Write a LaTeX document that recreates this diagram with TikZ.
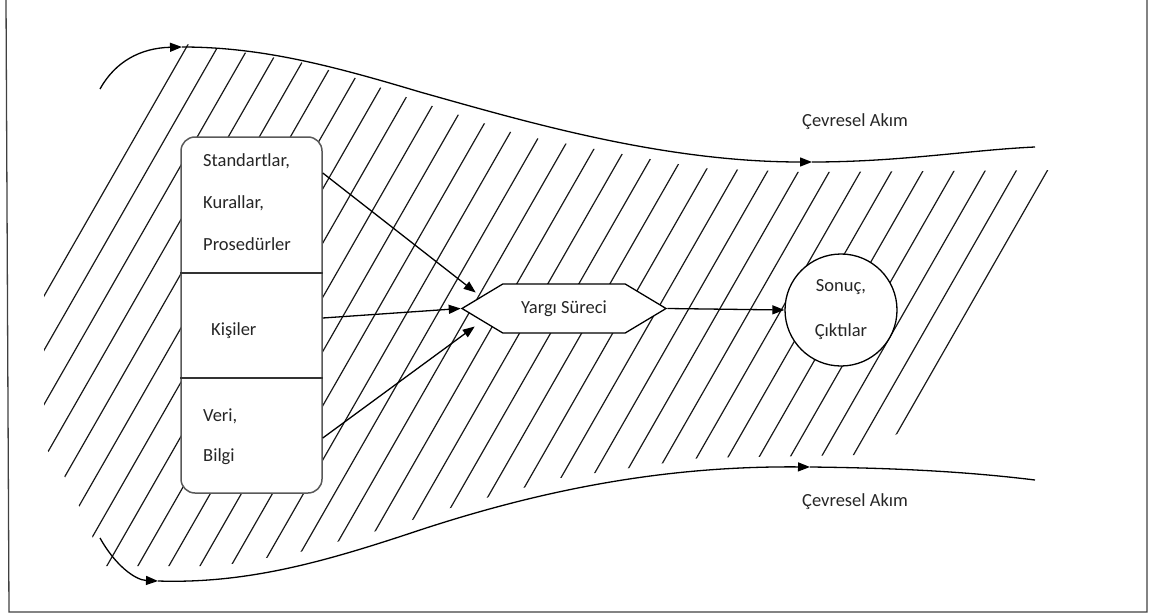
\documentclass[tikz,border=0pt]{standalone}
\usepackage{fontspec}
\setmainfont{Carlito}
\usetikzlibrary{arrows.meta,shapes.symbols}
\tikzset{
  dgtext/.style={font=\fontsize{18.5}{22}\selectfont, text=black!85, inner sep=0pt},
  dgline/.style={draw, line width=1.3pt},
  dgarrow/.style={dgline, -{Triangle[length=12pt,width=9pt]}},
  dghatch/.style={draw, line width=1.2pt, black!90},
  dgdivider/.style={draw, line width=1.2pt, black!80}
}
\begin{document}
\begin{tikzpicture}[
    x=1pt, y=-1pt,
    % One unit is one pixel of the drawing, y running downwards. The three
    % inputs share one rounded box; the judgement and the outcome sit on the
    % stream, which is only hatched, not filled.
    inputbox/.style={draw=black!65, line width=1.5pt, fill=white,
                     rounded corners=14pt, minimum width=141pt,
                     minimum height=356pt, inner sep=0pt},
    boxline/.style={dgtext, anchor=base west},
    process/.style={signal, signal to=east and west, signal pointer angle=62,
                    draw, line width=1.3pt, fill=white, minimum width=204pt,
                    minimum height=49pt, dgtext},
    result/.style={circle, draw, line width=1.3pt, fill=white,
                   minimum size=112pt, dgtext, align=center,
                   font=\fontsize{18.5}{45}\selectfont}
]
  \useasboundingbox (0,0) rectangle (1158,615);
  % Frame, open at the top.
  \draw[line width=1.3pt, black!75] (6,-2) -- (9,612) -- (1147,612) -- (1147,-2);
  % The stream: parallel strokes, cut to its rough outline.
  \begin{scope}
    \clip (44,293) -- (185,44) -- (230,50) -- (300,62) -- (350,76) -- (400,95)
      -- (450,112) -- (520,135) -- (600,150) -- (700,168) -- (800,172)
      -- (1050,170) -- (904,430) -- (860,455) -- (700,458) -- (560,478)
      -- (460,505) -- (380,530) -- (300,552) -- (220,566) -- (105,566)
      -- (70,485) -- (44,445) -- cycle;
    \foreach \k in {0,...,30} {
      \pgfmathsetmacro\xk{41.7+31.05*\k}
      \draw[dghatch] (\xk+148.9,40) -- (\xk-166,590);
    }
  \end{scope}
  % Upper and lower environmental currents.
  \draw[dgarrow] (100,89) .. controls (115,62) and (140,48) .. (182,47);
  \draw[dgarrow] (182,47) .. controls (260,47) and (330,65) .. (420,92)
    .. controls (520,120) and (660,162) .. (812,162);
  \draw[dgline] (812,162) .. controls (900,162) and (970,150) .. (1035,147);
  \draw[dgarrow] (100,538) .. controls (115,565) and (135,580) .. (158,581);
  \draw[dgarrow] (158,581) .. controls (250,584) and (330,560) .. (420,530)
    .. controls (560,484) and (680,466) .. (810,467);
  \draw[dgline] (810,467) .. controls (900,468) and (970,472) .. (1035,480);
  \node[boxline] (upperflow) at (802,126) {Çevresel Akım};
  \node[boxline] (lowerflow) at (802,506) {Çevresel Akım};
  % Inputs.
  \node[inputbox] (inputs) at (251.5,315) {};
  \draw[dgdivider] ([yshift=42pt]inputs.west) -- ([yshift=42pt]inputs.east);
  \draw[dgdivider] ([yshift=-63pt]inputs.west) -- ([yshift=-63pt]inputs.east);
  \node[boxline] (standards)  at (203,166.7) {Standartlar,};
  \node[boxline] (rules)      at (203,208)   {Kurallar,};
  \node[boxline] (procedures) at (203,250.7) {Prosedürler};
  \node[boxline] (people)     at (211,335)   {Kişiler};
  \node[boxline] (data)       at (203,421.7) {Veri,};
  \node[boxline] (info)       at (203,461.7) {Bilgi};
  % Judgement and outcome.
  \node[process] (judge) at (564,308.5) {Yargı Süreci};
  \node[result] (outcome) at (841,310) {Sonuç,\\Çıktılar};
  \draw[dgarrow] ([yshift=142pt]inputs.east) -- ([xshift=15pt,yshift=16pt]judge.west);
  \draw[dgarrow] ([yshift=-3pt]inputs.east) -- (judge.west);
  \draw[dgarrow] ([yshift=-123pt]inputs.east) -- ([xshift=14pt,yshift=-18pt]judge.west);
  \draw[dgarrow] (judge.east) -- (outcome.west);
\end{tikzpicture}
\end{document}
